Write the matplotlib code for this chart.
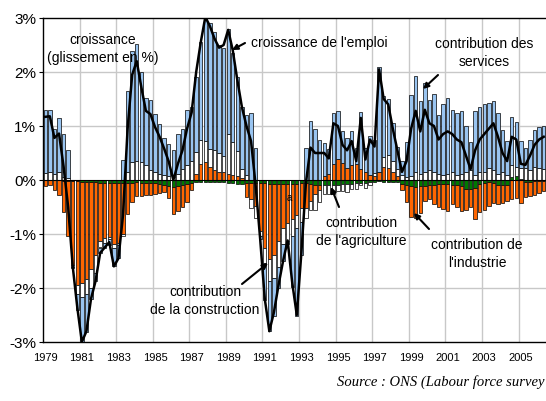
import numpy as np
import matplotlib
matplotlib.use("Agg")
import matplotlib.pyplot as plt

# contributions trimestrielles (points de %), 1979T1 - 2006T2
agriculture = [
    0.00, 0.00, 0.00, 0.00,      # 1979
    -0.01, -0.01, -0.02, -0.02,  # 1980
    -0.03, -0.03, -0.04, -0.04,  # 1981
    -0.05, -0.05, -0.05, -0.05,  # 1982
    -0.05, -0.05, -0.05, -0.05,  # 1983
    -0.04, -0.05, -0.05, -0.05,  # 1984
    -0.06, -0.08, -0.10, -0.12,  # 1985
    -0.13, -0.12, -0.10, -0.08,  # 1986
    -0.06, -0.04, -0.03, -0.03,  # 1987
    -0.03, -0.03, -0.03, -0.04,  # 1988
    -0.05, -0.06, -0.07, -0.07,  # 1989
    -0.06, -0.06, -0.06, -0.06,  # 1990
    -0.06, -0.07, -0.07, -0.07,  # 1991
    -0.07, -0.07, -0.07, -0.07,  # 1992
    -0.06, -0.06, -0.08, -0.10,  # 1993
    -0.10, -0.10, -0.10, -0.10,  # 1994
    -0.10, -0.08, -0.08, -0.08,  # 1995
    -0.06, -0.05, -0.05, -0.04,  # 1996
    -0.03, -0.02, -0.03, -0.03,  # 1997
    -0.03, -0.04, -0.08, -0.10,  # 1998
    -0.12, -0.13, -0.12, -0.12,  # 1999
    -0.10, -0.10, -0.08, -0.08,  # 2000
    -0.08, -0.10, -0.10, -0.12,  # 2001
    -0.17, -0.17, -0.15, -0.08,  # 2002
    -0.05, -0.04, -0.05, -0.10,  # 2003
    -0.10, -0.10, 0.06, 0.07,    # 2004
    0.02, -0.03, -0.03, -0.02,   # 2005
    -0.02, -0.02,                # 2006
]

industrie = [
    -0.12, -0.10, -0.18, -0.28,
    -0.58, -1.02, -1.55, -1.93,
    -1.88, -1.80, -1.61, -1.34,
    -1.08, -1.03, -1.00, -1.14,
    -1.11, -0.95, -0.58, -0.35,
    -0.26, -0.24, -0.22, -0.22,
    -0.20, -0.16, -0.12, -0.22,
    -0.50, -0.45, -0.40, -0.32,
    -0.12, 0.12, 0.30, 0.33,
    0.25, 0.18, 0.15, 0.14,
    0.12, 0.10, 0.08, 0.03,
    -0.25, -0.30, -0.42, -0.88,
    -1.19, -1.40, -1.31, -1.06,
    -0.81, -0.72, -0.66, -0.57,
    -0.45, -0.45, -0.30, -0.15,
    -0.08, 0.08, 0.12, 0.30,
    0.38, 0.32, 0.22, 0.28,
    0.30, 0.20, 0.15, 0.10,
    0.08, 0.14, 0.25, 0.22,
    0.15, 0.08, -0.10, -0.31,
    -0.56, -0.57, -0.50, -0.26,
    -0.25, -0.34, -0.42, -0.45,
    -0.49, -0.35, -0.40, -0.45,
    -0.38, -0.33, -0.57, -0.52,
    -0.50, -0.44, -0.37, -0.35,
    -0.32, -0.28, -0.36, -0.33,
    -0.42, -0.29, -0.27, -0.25,
    -0.22, -0.18,
]

construction = [
    0.13, 0.14, 0.12, 0.14,
    0.06, 0.03, -0.04, -0.17,
    -0.26, -0.29, -0.35, -0.34,
    -0.12, -0.08, -0.05, -0.06,
    -0.04, -0.04, 0.15, 0.34,
    0.36, 0.34, 0.28, 0.19,
    0.15, 0.12, 0.10, 0.08,
    0.06, 0.12, 0.20, 0.28,
    0.35, 0.40, 0.45, 0.40,
    0.32, 0.38, 0.35, 0.30,
    0.73, 0.60, 0.45, 0.18,
    0.10, -0.15, -0.22, -0.10,
    -0.28, -0.40, -0.43, -0.49,
    -0.31, -0.34, -0.30, -0.25,
    -0.27, -0.20, -0.18, -0.30,
    -0.22, -0.15, -0.15, -0.15,
    -0.10, -0.12, -0.15, -0.08,
    -0.10, -0.05, -0.10, -0.05,
    0.05, 0.00, 0.18, 0.25,
    0.20, 0.12, 0.10, 0.06,
    0.08, 0.15, 0.12, 0.15,
    0.18, 0.15, 0.12, 0.10,
    0.12, 0.15, 0.10, 0.12,
    0.14, 0.18, 0.10, 0.15,
    0.15, 0.22, 0.18, 0.12,
    0.15, 0.10, 0.22, 0.18,
    0.20, 0.22, 0.18, 0.25,
    0.22, 0.20,
]

services = [
    1.17, 1.16, 0.83, 1.00,
    0.79, 0.52, -0.02, -0.28,
    -0.83, -0.70, -0.20, -0.15,
    -0.10, -0.09, -0.10, -0.35,
    -0.25, 0.37, 1.50, 2.04,
    2.16, 1.66, 1.24, 1.29,
    1.08, 0.92, 0.67, 0.59,
    0.50, 0.73, 0.75, 1.02,
    1.00, 1.38, 1.80, 2.27,
    2.33, 2.19, 2.00, 2.01,
    1.95, 1.65, 1.37, 1.14,
    1.10, 1.25, 0.60, -0.05,
    -0.70, -0.93, -0.70, -0.38,
    -0.31, -0.05, -0.95, -1.63,
    -0.60, 0.60, 1.10, 0.95,
    0.75, 0.60, 0.45, 0.95,
    0.90, 0.58, 0.55, 0.62,
    0.30, 1.05, 0.45, 0.72,
    0.62, 1.96, 1.12, 1.03,
    0.70, 0.42, 0.25, 0.64,
    1.50, 1.78, 1.34, 1.65,
    1.31, 1.44, 1.08, 1.30,
    1.40, 1.15, 1.15, 1.15,
    0.86, 0.52, 1.17, 1.20,
    1.25, 1.21, 1.29, 1.13,
    0.77, 0.63, 0.88, 0.83,
    0.50, 0.38, 0.57, 0.67,
    0.77, 0.80,
]

# croissance de l'emploi (glissement annuel, %)
emploi = [
    1.17, 1.18, 0.78, 0.86,
    0.25, -0.50, -1.60, -2.36,
    -3.00, -2.80, -2.20, -1.87,
    -1.35, -1.25, -1.15, -1.60,
    -1.45, -0.65, 0.95, 1.95,
    2.20, 1.72, 1.28, 1.22,
    0.98, 0.80, 0.58, 0.34,
    0.00, 0.30, 0.55, 0.95,
    1.25, 2.00, 2.55, 3.02,
    2.85, 2.62, 2.45, 2.50,
    2.78, 2.40, 1.85, 1.35,
    1.00, 0.72, -0.10, -1.10,
    -2.20, -2.80, -2.45, -1.95,
    -1.50, -1.12, -1.90, -2.50,
    -1.35, -0.05, 0.60, 0.50,
    0.50, 0.50, 0.40, 1.05,
    1.00, 0.65, 0.55, 0.72,
    0.35, 1.15, 0.38, 0.75,
    0.62, 2.05, 1.50, 1.40,
    0.95, 0.55, 0.15, 0.35,
    0.95, 1.28, 0.90, 1.30,
    1.05, 1.00, 0.75, 0.85,
    0.90, 0.85, 0.75, 0.70,
    0.45, 0.20, 0.55, 0.75,
    0.85, 0.95, 1.05, 0.80,
    0.50, 0.35, 0.80, 0.75,
    0.30, 0.28, 0.45, 0.65,
    0.75, 0.80,
]

year_labels = [str(y) for y in range(1979, 2006, 2)]
y_ticks = [-3, -2, -1, 0, 1, 2, 3]

plt.rcParams['font.family'] = ['Liberation Sans', 'DejaVu Sans']

W, H = 546, 402
fig = plt.figure(figsize=(W / 100, H / 100), dpi=100)
ax = fig.add_axes([43 / W, 1 - 343 / H, 1 - 43 / W, (343 - 19) / H])

x = np.arange(len(emploi))
pos = np.zeros(len(x))
neg = np.zeros(len(x))
for vals, col in [(agriculture, '#007a00'), (industrie, '#ff6600'),
                  (construction, 'white'), (services, '#99c4f0')]:
    v = np.array(vals)
    bottom = np.where(v >= 0, pos, neg)
    ax.bar(x, v, 0.74, bottom=bottom, color=col, edgecolor='black',
           linewidth=0.5, zorder=3)
    pos += np.clip(v, 0, None)
    neg += np.clip(v, None, 0)

ax.plot(x, emploi, color='black', lw=1.8, zorder=5)
ax.axhline(0, color='black', lw=0.8, zorder=4)

ax.set_xlim(-0.5, len(x) - 0.5)
ax.set_ylim(-3, 3)
ax.set_yticks(y_ticks)
ax.set_yticklabels([f'{v}%' for v in y_ticks], fontsize=11)
ax.set_xticks(np.arange(0, len(x), 8))
ax.set_xticklabels(year_labels, fontsize=8)
ax.tick_params(axis='x', length=0, pad=7)
ax.tick_params(axis='y', length=3, pad=2)

for yv in [-2, -1, 1, 2]:
    ax.axhline(yv, color='#c8c8c8', lw=1, zorder=1)
for i in range(8, len(x), 8):
    ax.axvline(i - 0.5, color='#c8c8c8', lw=1, zorder=1)

for s in ['left', 'bottom', 'top']:
    ax.spines[s].set_color('black')
    ax.spines[s].set_linewidth(1)
ax.spines['right'].set_visible(False)


def fx(px, py):
    return px / W, 1 - py / H


txt = dict(fontsize=10, ha='center', va='center', linespacing=1.4)
fig.text(*fx(103, 49), 'croissance\n(glissement en %)', **txt)
fig.text(*fx(319, 43), "croissance de l'emploi", **txt)
fig.text(*fx(484, 53), 'contribution des\nservices', **txt)
fig.text(*fx(361, 232), "contribution\nde l'agriculture", **txt)
fig.text(*fx(477, 254), "contribution de\nl'industrie", **txt)
fig.text(*fx(205, 301), 'contribution\nde la construction', **txt)
fig.text(*fx(289, 198), 'a', fontsize=7, ha='center', va='center')

arrows = [((245, 44), (232, 51)), ((438, 76), (423, 90)),
          ((339, 208), (331, 188)), ((429, 230), (414, 214)),
          ((242, 285), (268, 264))]
for (tx, ty), (hx, hy) in arrows:
    ax.annotate('', xy=(hx, H - hy), xytext=(tx, H - ty),
                xycoords='figure pixels', textcoords='figure pixels',
                arrowprops=dict(arrowstyle='-|>', color='black', lw=1.5,
                                mutation_scale=8, shrinkA=0, shrinkB=0))

fig.text(337 / W, 1 - 382 / H, 'Source : ONS (Labour force survey',
         family='Liberation Serif', style='italic', fontsize=10.5,
         ha='left', va='center')

fig.savefig('out.png', dpi=100)
